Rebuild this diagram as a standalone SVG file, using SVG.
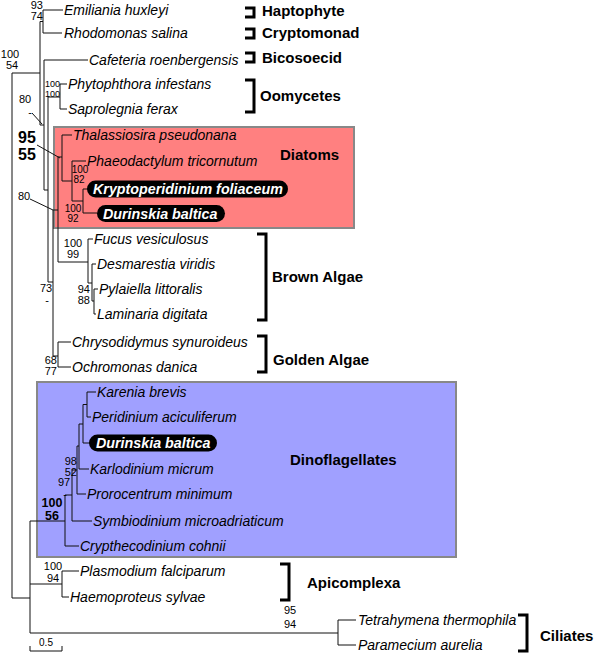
<svg xmlns="http://www.w3.org/2000/svg" width="600" height="657" viewBox="0 0 600 657">
<style>
.sp{font-family:"Liberation Sans",Arial,sans-serif;font-style:italic;font-size:14px;fill:#000}
.pl{font-family:"Liberation Sans",Arial,sans-serif;font-style:italic;font-weight:bold;font-size:14.3px;fill:#fff}
.grp{font-family:"Liberation Sans",Arial,sans-serif;font-weight:bold;font-size:15px;fill:#000}
.bs{font-family:"Liberation Sans",Arial,sans-serif;font-size:11px;fill:#000}
.bs10{font-family:"Liberation Sans",Arial,sans-serif;font-size:10px;fill:#000}
.bs9{font-family:"Liberation Sans",Arial,sans-serif;font-size:9px;fill:#000}
.bb{font-family:"Liberation Sans",Arial,sans-serif;font-weight:bold;fill:#000}
.tr{fill:none;stroke:#111;stroke-width:1}
.br{fill:none;stroke:#000;stroke-width:3}
.box{stroke:#888;stroke-width:2}
</style>
<rect width="600" height="657" fill="#fff"/>
<g id="diatoms-box"><rect class="box" x="54" y="127" width="300" height="101" fill="#ff8080"/></g>
<g id="dinos-box"><rect class="box" x="37" y="382" width="419" height="175" fill="#a0a0ff"/></g>

<g id="connectors">
<path class="tr" d="M12,73 V598 H30 M12,73 H40 V21.5 H43 M43,10 V33 M43,10 H63 M43,33 H62
M40,73 V125 H44 M44,60 V190 M44,60 H88 M44,190 H48 M48,97 V282 M48,97 H60 M60,84 V109 M60,84 H67 M60,109 H67
M48,282 H53 M53,210 V356 M53,210 H58 M58,157 V262 M58,157 H62 M62,135 V181 M62,135 H72 M62,181 H72 M72,161 V201 M72,161 H86 M72,201 H83 M83,189 V213 M83,189 H88 M83,213 H97
M58,262 H88 M88,239 V283 M88,239 H93 M88,283 H92 M92,264 V301 M92,264 H96 M92,301 H94 M94,289 V314 M94,289 H98 M94,314 H96
M53,356 H58 M58,342 V367 M58,342 H71 M58,367 H71
M30,521 V633 M30,521 H65 M65,495 V546 M65,546 H79 M65,495 H72 M72,470 V521 M72,521 H92 M72,470 H77 M77,446 V494 M77,494 H86 M77,446 H79 M79,424 V469 M79,469 H89 M79,424 H83 M83,404.5 V443 M83,443 H90 M83,404.5 H87 M87,392 V417 M87,392 H96 M87,417 H91
M30,584 H62 M62,571 V597 M62,571 H79 M62,597 H69
M30,633 H338 M338,620 V645 M338,620 H356 M338,645 H356
M30,651 H62 M30,646 V651 M62,646 V651
M32,113 L42,124 M37,145 L60,158 M30,199 L53,210"/>
</g>

<g id="brackets">
<path class="br" d="M245,8 H254 V17 H245"/>
<path class="br" d="M245,29 H254 V38 H245"/>
<path class="br" d="M245,53 H254 V62 H245"/>
<path class="br" d="M245,80 H254 V112 H245"/>
<path class="br" d="M257,234 H266 V320 H257"/>
<path class="br" d="M257,336 H266 V372 H257"/>
<path class="br" d="M280,564 H289 V600 H280"/>
<path class="br" d="M518,615 H527 V651 H518"/>
</g>

<g id="n-emiliania"><text class="sp" x="64" y="15">Emiliania huxleyi</text></g>
<g id="n-rhodomonas"><text class="sp" x="64" y="38">Rhodomonas salina</text></g>
<g id="n-cafeteria"><text class="sp" x="89" y="65">Cafeteria roenbergensis</text></g>
<g id="n-phytophthora"><text class="sp" x="68" y="89">Phytophthora infestans</text></g>
<g id="n-saprolegnia"><text class="sp" x="68" y="114">Saprolegnia ferax</text></g>
<g id="n-thalassiosira"><text class="sp" x="73" y="140">Thalassiosira pseudonana</text></g>
<g id="n-phaeodactylum"><text class="sp" x="87" y="166">Phaeodactylum tricornutum</text></g>
<g id="n-kryptoperidinium"><rect x="87" y="180.5" width="201" height="17" rx="8.5" fill="#000"/><text class="pl" x="93" y="194">Kryptoperidinium foliaceum</text></g>
<g id="n-durinskia1"><rect x="97" y="205" width="128" height="17" rx="8.5" fill="#000"/><text class="pl" x="103" y="218.5">Durinskia baltica</text></g>
<g id="n-fucus"><text class="sp" x="94" y="244">Fucus vesiculosus</text></g>
<g id="n-desmarestia"><text class="sp" x="97" y="269">Desmarestia viridis</text></g>
<g id="n-pylaiella"><text class="sp" x="99" y="294">Pylaiella littoralis</text></g>
<g id="n-laminaria"><text class="sp" x="97" y="319">Laminaria digitata</text></g>
<g id="n-chrysodidymus"><text class="sp" x="72" y="347">Chrysodidymus synuroideus</text></g>
<g id="n-ochromonas"><text class="sp" x="72" y="372">Ochromonas danica</text></g>
<g id="n-karenia"><text class="sp" x="97" y="397">Karenia brevis</text></g>
<g id="n-peridinium"><text class="sp" x="92" y="422">Peridinium aciculiferum</text></g>
<g id="n-durinskia2"><rect x="89" y="434.5" width="128" height="17" rx="8.5" fill="#000"/><text class="pl" x="96" y="448">Durinskia baltica</text></g>
<g id="n-karlodinium"><text class="sp" x="90" y="474">Karlodinium micrum</text></g>
<g id="n-prorocentrum"><text class="sp" x="87" y="499">Prorocentrum minimum</text></g>
<g id="n-symbiodinium"><text class="sp" x="93" y="526">Symbiodinium microadriaticum</text></g>
<g id="n-crypthecodinium"><text class="sp" x="80" y="551">Crypthecodinium cohnii</text></g>
<g id="n-plasmodium"><text class="sp" x="80" y="576">Plasmodium falciparum</text></g>
<g id="n-haemoproteus"><text class="sp" x="70" y="602">Haemoproteus sylvae</text></g>
<g id="n-tetrahymena"><text class="sp" x="358" y="625">Tetrahymena thermophila</text></g>
<g id="n-paramecium"><text class="sp" x="358" y="650">Paramecium aurelia</text></g>

<g id="g-haptophyte"><text class="grp" x="262" y="16">Haptophyte</text></g>
<g id="g-cryptomonad"><text class="grp" x="262" y="38">Cryptomonad</text></g>
<g id="g-bicosoecid"><text class="grp" x="262" y="63">Bicosoecid</text></g>
<g id="g-oomycetes"><text class="grp" x="260" y="101">Oomycetes</text></g>
<g id="g-diatoms"><text class="grp" x="280" y="160">Diatoms</text></g>
<g id="g-brown"><text class="grp" x="272" y="282">Brown Algae</text></g>
<g id="g-golden"><text class="grp" x="273" y="365">Golden Algae</text></g>
<g id="g-dinos"><text class="grp" x="290" y="465">Dinoflagellates</text></g>
<g id="g-apicomplexa"><text class="grp" x="307" y="588">Apicomplexa</text></g>
<g id="g-ciliates"><text class="grp" x="540" y="641">Ciliates</text></g>

<g id="support">
<text class="bs" x="43" y="9" text-anchor="end">93</text><text class="bs" x="43" y="20" text-anchor="end">74</text>
<text class="bs" x="10" y="58" text-anchor="middle">100</text><text class="bs" x="12" y="69" text-anchor="middle">54</text>
<text class="bs9" x="60" y="87" text-anchor="end">100</text><text class="bs9" x="60" y="97" text-anchor="end">100</text>
<text class="bs" x="25" y="103" text-anchor="middle">80</text><text class="bs" x="30" y="116" text-anchor="middle">-</text>
<text class="bb" font-size="16" x="27" y="143" text-anchor="middle">95</text><text class="bb" font-size="16" x="27" y="160" text-anchor="middle">55</text>
<text class="bs10" x="80" y="173" text-anchor="middle">100</text><text class="bs10" x="79" y="183" text-anchor="middle">82</text>
<text class="bs" x="24" y="200" text-anchor="middle">80</text>
<text class="bs10" x="73" y="212" text-anchor="middle">100</text><text class="bs10" x="73" y="222" text-anchor="middle">92</text>
<text class="bs" x="73" y="247" text-anchor="middle">100</text><text class="bs" x="73" y="258" text-anchor="middle">99</text>
<text class="bs" x="46" y="292" text-anchor="middle">73</text><text class="bs" x="47" y="304" text-anchor="middle">-</text>
<text class="bs" x="90" y="293" text-anchor="end">94</text><text class="bs" x="90" y="304" text-anchor="end">88</text>
<text class="bs" x="57" y="364" text-anchor="end">68</text><text class="bs" x="57" y="375" text-anchor="end">77</text>
<text class="bs" x="77" y="465" text-anchor="end">98</text><text class="bs" x="77" y="476" text-anchor="end">52</text>
<text class="bs" x="64" y="486" text-anchor="middle">97</text><text class="bs" x="65" y="498" text-anchor="middle">-</text>
<text class="bb" font-size="12.5" x="52" y="507" text-anchor="middle">100</text><text class="bb" font-size="12.5" x="52" y="520" text-anchor="middle">56</text>
<text class="bs" x="53" y="570" text-anchor="middle">100</text><text class="bs" x="53" y="582" text-anchor="middle">94</text>
<text class="bs" x="290" y="614" text-anchor="middle">95</text><text class="bs" x="290" y="628" text-anchor="middle">94</text>
<text class="bs10" x="46" y="646" text-anchor="middle">0.5</text>
</g>
</svg>
